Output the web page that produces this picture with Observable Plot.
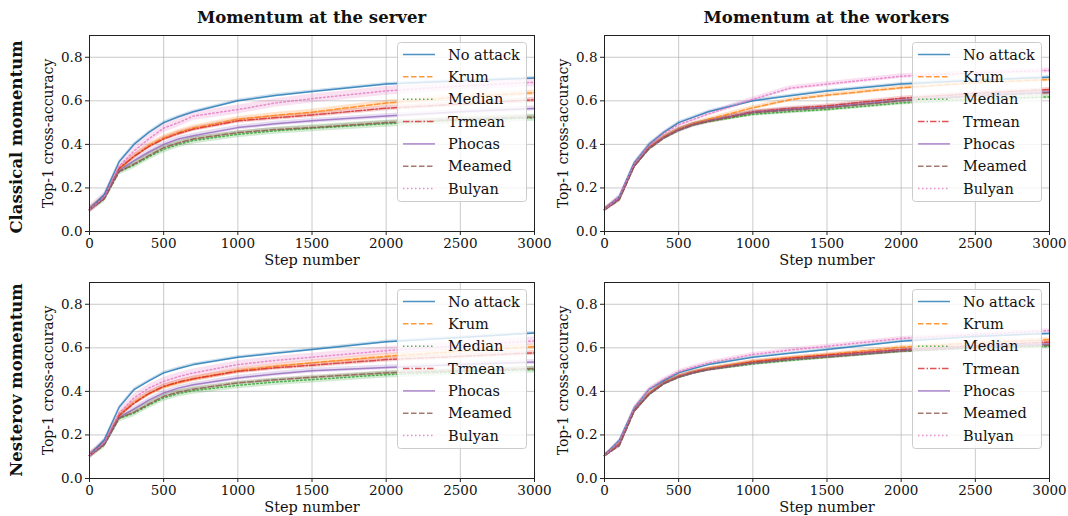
<!DOCTYPE html>
<html>
<head>
<meta charset="utf-8">
<script src="https://cdn.jsdelivr.net/npm/d3@7"></script>
<script src="https://cdn.jsdelivr.net/npm/@observablehq/plot@0.6"></script>
<style>
  body { margin: 0; background: #fff; }
  #root { position: relative; width: 1068px; height: 516px; overflow: hidden; font-family: "DejaVu Serif", serif; color: #111; }
  #root svg, #root svg text { font-family: "DejaVu Serif", serif !important; }
  .panel { position: absolute; }
  .title { position: absolute; font-weight: bold; font-size: 16.5px; white-space: nowrap; transform: translate(-50%, -50%); }
  .rowlabel { position: absolute; font-weight: bold; font-size: 16.5px; white-space: nowrap; transform: translate(-50%, -50%) rotate(-90deg); }
  .legend { position: absolute; }
</style>
</head>
<body>
<div id="root"></div>
<script>
// ---------- data ----------
const steps = [0, 100, 200, 300, 400, 500, 600, 700, 1000, 1250, 1500, 2000, 2500, 3000];
const seriesNames = ["No attack", "Krum", "Median", "Trmean", "Phocas", "Meamed", "Bulyan"];
const seriesColors = ["#1f77b4", "#ff7f0e", "#2ca02c", "#d62728", "#9467bd", "#8c564b", "#e377c2"];
const seriesDashes = [null, "5.5,2.5", "1.5,2.5", "6.5,2,1.5,2", null, "5.5,2.5", "1.5,2.5"];
const xTicks = [0, 500, 1000, 1500, 2000, 2500, 3000];
const yTicks = [0, 0.2, 0.4, 0.6, 0.8];
const columnTitles = ["Momentum at the server", "Momentum at the workers"];
const rowTitles = ["Classical momentum", "Nesterov momentum"];

// rows: No attack, Krum, Median, Trmean, Phocas, Meamed, Bulyan
const classicalServer = [
  [0.10, 0.17, 0.32, 0.40, 0.455, 0.50, 0.527, 0.55, 0.60, 0.625, 0.643, 0.677, 0.692, 0.705],
  [0.10, 0.155, 0.285, 0.345, 0.395, 0.43, 0.455, 0.475, 0.515, 0.533, 0.548, 0.59, 0.618, 0.637],
  [0.10, 0.15, 0.275, 0.305, 0.343, 0.377, 0.40, 0.418, 0.446, 0.462, 0.474, 0.495, 0.512, 0.522],
  [0.10, 0.155, 0.29, 0.345, 0.39, 0.425, 0.45, 0.47, 0.508, 0.522, 0.535, 0.566, 0.585, 0.605],
  [0.10, 0.155, 0.28, 0.325, 0.365, 0.40, 0.425, 0.44, 0.477, 0.495, 0.508, 0.53, 0.55, 0.565],
  [0.10, 0.15, 0.275, 0.31, 0.348, 0.385, 0.407, 0.425, 0.454, 0.468, 0.477, 0.50, 0.515, 0.526],
  [0.10, 0.16, 0.30, 0.37, 0.425, 0.475, 0.50, 0.53, 0.56, 0.59, 0.61, 0.646, 0.668, 0.685]
];
const classicalWorkers = [
  [0.10, 0.16, 0.315, 0.40, 0.455, 0.50, 0.525, 0.55, 0.60, 0.623, 0.645, 0.677, 0.695, 0.708],
  [0.10, 0.15, 0.30, 0.385, 0.435, 0.47, 0.495, 0.515, 0.568, 0.605, 0.626, 0.66, 0.683, 0.698],
  [0.10, 0.15, 0.30, 0.38, 0.43, 0.465, 0.49, 0.505, 0.538, 0.55, 0.56, 0.59, 0.607, 0.618],
  [0.10, 0.15, 0.30, 0.385, 0.432, 0.468, 0.492, 0.508, 0.55, 0.565, 0.577, 0.612, 0.635, 0.652],
  [0.10, 0.15, 0.30, 0.382, 0.43, 0.466, 0.49, 0.507, 0.547, 0.56, 0.57, 0.603, 0.625, 0.64],
  [0.10, 0.145, 0.30, 0.38, 0.43, 0.465, 0.49, 0.506, 0.545, 0.558, 0.568, 0.60, 0.622, 0.637],
  [0.10, 0.16, 0.31, 0.395, 0.45, 0.49, 0.515, 0.54, 0.607, 0.658, 0.677, 0.713, 0.728, 0.74]
];
const nesterovServer = [
  [0.105, 0.178, 0.327, 0.408, 0.448, 0.485, 0.505, 0.523, 0.557, 0.575, 0.592, 0.628, 0.648, 0.668],
  [0.105, 0.16, 0.29, 0.35, 0.39, 0.42, 0.44, 0.457, 0.495, 0.515, 0.531, 0.561, 0.584, 0.605],
  [0.105, 0.155, 0.275, 0.30, 0.337, 0.37, 0.39, 0.403, 0.428, 0.443, 0.454, 0.477, 0.49, 0.50],
  [0.105, 0.16, 0.29, 0.345, 0.39, 0.423, 0.443, 0.458, 0.492, 0.508, 0.52, 0.546, 0.561, 0.577],
  [0.105, 0.158, 0.28, 0.32, 0.36, 0.393, 0.415, 0.43, 0.462, 0.48, 0.495, 0.51, 0.523, 0.535],
  [0.105, 0.155, 0.278, 0.305, 0.342, 0.377, 0.397, 0.41, 0.439, 0.453, 0.465, 0.485, 0.495, 0.505],
  [0.105, 0.165, 0.30, 0.37, 0.415, 0.446, 0.468, 0.485, 0.523, 0.542, 0.557, 0.587, 0.61, 0.632]
];
const nesterovWorkers = [
  [0.105, 0.175, 0.324, 0.408, 0.45, 0.485, 0.505, 0.523, 0.557, 0.575, 0.592, 0.63, 0.652, 0.666],
  [0.105, 0.16, 0.31, 0.39, 0.44, 0.47, 0.49, 0.505, 0.538, 0.555, 0.569, 0.603, 0.623, 0.638],
  [0.105, 0.155, 0.31, 0.385, 0.435, 0.465, 0.485, 0.50, 0.526, 0.542, 0.557, 0.584, 0.60, 0.607],
  [0.105, 0.158, 0.31, 0.388, 0.438, 0.468, 0.488, 0.502, 0.535, 0.552, 0.566, 0.592, 0.61, 0.627],
  [0.105, 0.155, 0.31, 0.386, 0.436, 0.466, 0.486, 0.50, 0.53, 0.547, 0.56, 0.587, 0.605, 0.618],
  [0.105, 0.15, 0.31, 0.386, 0.436, 0.466, 0.486, 0.50, 0.53, 0.546, 0.558, 0.585, 0.602, 0.612],
  [0.105, 0.17, 0.325, 0.41, 0.455, 0.49, 0.512, 0.53, 0.569, 0.59, 0.607, 0.643, 0.661, 0.679]
];
// half-width of the shaded band around each series
const classicalServerSpread = [0.007, 0.013, 0.016, 0.011, 0.011, 0.009, 0.02];
const classicalWorkersSpread = [0.007, 0.009, 0.009, 0.009, 0.009, 0.011, 0.011];
const nesterovServerSpread = [0.007, 0.013, 0.016, 0.011, 0.011, 0.009, 0.018];
const nesterovWorkersSpread = [0.006, 0.008, 0.008, 0.008, 0.008, 0.009, 0.009];

// ---------- layout ----------
const root = document.getElementById("root");
const M = {left: 89, top: 10, right: 12, bottom: 50};
const FW = 445, FH = 196;
const FONT = "DejaVu Serif, serif";

function makePanel(data, spread, left, top) {
  const marks = [
    Plot.gridX(xTicks, {stroke: "#b0b0b0", strokeOpacity: 0.75, strokeWidth: 0.9}),
    Plot.gridY(yTicks, {stroke: "#b0b0b0", strokeOpacity: 0.75, strokeWidth: 0.9})
  ];
  const rowsOf = (i) => steps.map((s, j) => ({s, v: data[i][j], lo: data[i][j] - spread[i], hi: data[i][j] + spread[i]}));
  seriesNames.forEach((name, i) => {
    marks.push(Plot.areaY(rowsOf(i), {x: "s", y1: "lo", y2: "hi", fill: seriesColors[i], fillOpacity: 0.22}));
  });
  seriesNames.forEach((name, i) => {
    marks.push(Plot.line(rowsOf(i), {
      x: "s", y: "v", stroke: seriesColors[i], strokeWidth: 1.5, strokeOpacity: 0.8,
      strokeDasharray: seriesDashes[i] || undefined
    }));
  });
  marks.push(
    Plot.frame({stroke: "#222", strokeWidth: 1}),
    Plot.axisX(xTicks, {tickSize: 4, tickPadding: 3, fontSize: 13.5, stroke: "#222", tickFormat: d => String(d), label: null}),
    Plot.axisY(yTicks, {tickSize: 4, tickPadding: 3, fontSize: 13.5, stroke: "#222", tickFormat: d => d.toFixed(1), label: null}),
    Plot.text(["Step number"], {frameAnchor: "bottom", dy: 33, fontSize: 14.5, fill: "#111"}),
    Plot.text(["Top-1 cross-accuracy"], {frameAnchor: "left", textAnchor: "middle", dx: -41, rotate: -90, fontSize: 14, fill: "#111"})
  );
  const svg = Plot.plot({
    width: M.left + FW + M.right,
    height: M.top + FH + M.bottom,
    marginLeft: M.left, marginTop: M.top, marginRight: M.right, marginBottom: M.bottom,
    x: {domain: [0, 3000]},
    y: {domain: [0, 0.9]},
    style: {fontFamily: FONT, color: "#111", background: "transparent", overflow: "visible"},
    marks
  });
  svg.setAttribute("font-family", FONT);
  svg.classList.add("panel");
  svg.style.left = left + "px";
  svg.style.top = top + "px";
  root.appendChild(svg);

  // legend, inside the upper right corner of the frame
  const ns = "http://www.w3.org/2000/svg";
  const LW = 129, LH = 159;
  const lg = document.createElementNS(ns, "svg");
  lg.setAttribute("width", LW + 2); lg.setAttribute("height", LH + 2);
  lg.classList.add("legend");
  lg.style.left = (left + M.left + FW - 8 - LW) + "px";
  lg.style.top = (top + M.top + 7) + "px";
  const r = document.createElementNS(ns, "rect");
  r.setAttribute("x", 0.5); r.setAttribute("y", 0.5); r.setAttribute("width", LW); r.setAttribute("height", LH);
  r.setAttribute("rx", 3); r.setAttribute("fill", "white"); r.setAttribute("fill-opacity", 0.8);
  r.setAttribute("stroke", "#cccccc"); r.setAttribute("stroke-width", 1);
  lg.appendChild(r);
  seriesNames.forEach((name, i) => {
    const y = 12.5 + i * 22.35;
    const l = document.createElementNS(ns, "line");
    l.setAttribute("x1", 6); l.setAttribute("x2", 38); l.setAttribute("y1", y); l.setAttribute("y2", y);
    l.setAttribute("stroke", seriesColors[i]); l.setAttribute("stroke-width", 1.5); l.setAttribute("stroke-opacity", 0.8);
    if (seriesDashes[i]) l.setAttribute("stroke-dasharray", seriesDashes[i]);
    lg.appendChild(l);
    const t = document.createElementNS(ns, "text");
    t.setAttribute("x", 51); t.setAttribute("y", y); t.setAttribute("dy", "0.35em");
    t.setAttribute("font-family", FONT); t.setAttribute("font-size", 14.5); t.setAttribute("fill", "#111");
    t.textContent = name;
    lg.appendChild(t);
  });
  root.appendChild(lg);
}

const colLeft = [0, 515];
const rowTop = [25, 272];
makePanel(classicalServer, classicalServerSpread, colLeft[0], rowTop[0]);
makePanel(classicalWorkers, classicalWorkersSpread, colLeft[1], rowTop[0]);
makePanel(nesterovServer, nesterovServerSpread, colLeft[0], rowTop[1]);
makePanel(nesterovWorkers, nesterovWorkersSpread, colLeft[1], rowTop[1]);

columnTitles.forEach((txt, c) => {
  const d = document.createElement("div");
  d.className = "title";
  d.textContent = txt;
  d.style.left = (colLeft[c] + M.left + FW / 2) + "px";
  d.style.top = "17px";
  root.appendChild(d);
});
rowTitles.forEach((txt, r) => {
  const d = document.createElement("div");
  d.className = "rowlabel";
  d.textContent = txt;
  d.style.left = "16px";
  d.style.top = (r === 0 ? 137 : 380) + "px";
  root.appendChild(d);
});
</script>
</body>
</html>
